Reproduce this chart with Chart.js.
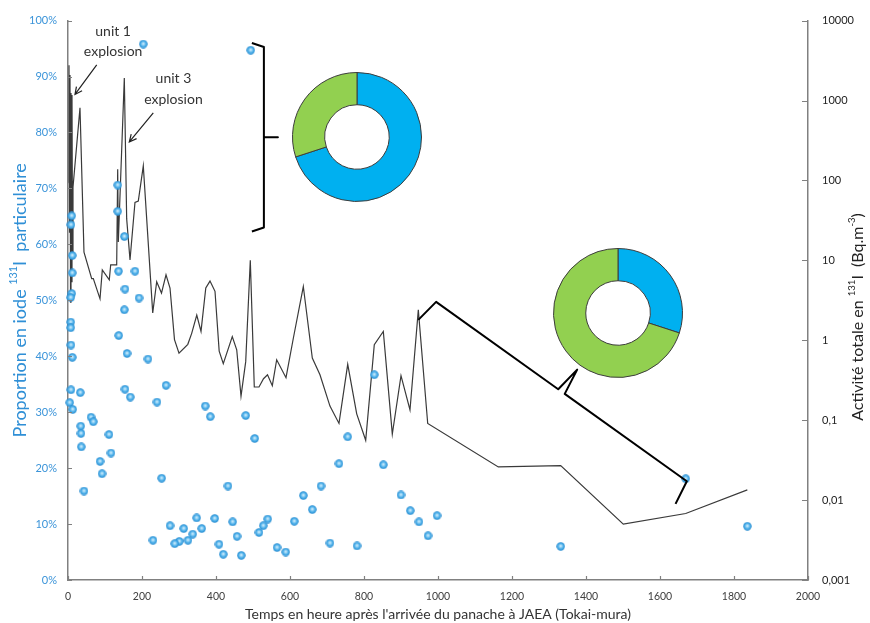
<!DOCTYPE html>
<html lang="fr">
<head>
<meta charset="utf-8">
<script src="https://cdn.jsdelivr.net/npm/chart.js@4/dist/chart.umd.min.js"></script>
<style>
  html, body { margin: 0; padding: 0; background: #fff; }
  #wrap { position: relative; width: 870px; height: 623px; }
  #wrap canvas { position: absolute; }
</style>
</head>
<body>
<div id="wrap">
  <canvas id="main" width="870" height="623" style="left:0;top:0"></canvas>
  <canvas id="ring1" width="130" height="130" style="left:292px;top:72px"></canvas>
  <canvas id="ring2" width="130" height="130" style="left:553px;top:248px"></canvas>
</div>
<script>
// total I-131 activity (Bq/m3) vs hours after plume arrival
const lineHours = [1.4, 2.7, 4.1, 5.4, 6.8, 8.1, 9.5, 10.8, 12.2, 13.5,
  32.4, 43.2, 64, 68.4, 86.5, 92.7, 111.6, 115.4, 131.6, 134.3,
  136, 152.2, 158.6, 167.6, 181, 190, 203.5, 229, 239.7, 252.7,
  264.9, 275.7, 287.8, 300, 323.8, 334.3, 348, 359.5, 372.4, 383.8,
  397.3, 408.6, 419.7, 444, 456, 467.6, 480.3, 492.7, 503.5, 516.2,
  528.4, 539.2, 552.2, 564, 589.2, 609, 636, 660.3, 681, 708,
  732.4, 756, 780.3, 804.6, 827.8, 852.2, 876.5, 900, 924.3, 946.8,
  972.2, 1163, 1331.6, 1500.8, 1669.5, 1836];
const lineActivity = [94, 2770, 22.5, 2080, 3.0, 1240, 5.4, 1170, 12.7, 82,
  810, 12.7, 5.9, 5.9, 3.3, 7.6, 5.7, 8.8, 8.8, 138,
  17, 1910, 33, 10.1, 53, 55, 152, 2.2, 5.4, 3.9,
  6.6, 4.5, 1.02, 0.69, 0.89, 1.22, 2.07, 1.29, 4.5, 5.5,
  4.1, 0.73, 0.51, 1.11, 0.76, 0.2, 0.54, 10, 0.26, 0.26,
  0.33, 0.37, 0.27, 0.57, 0.34, 1.06, 4.7, 0.60, 0.37, 0.15,
  0.091, 0.50, 0.12, 0.056, 0.88, 1.29, 0.067, 0.36, 0.134, 2.4,
  0.091, 0.026, 0.027, 0.005, 0.0068, 0.0134];

// share of particulate iodine (%) per sample
const pointHours = [203.5, 493.8, 10, 8.1, 134.3, 134.3, 152.2, 11.6, 11.6, 10,
  7.3, 136.5, 181, 154, 191.9, 152.2, 7.3, 7.3, 137, 8.1,
  11.6, 159.5, 216.2, 8.1, 33.2, 154, 168.4, 264.9, 240.5, 4.6,
  12.7, 62.2, 68.4, 34.3, 35.1, 110.8, 35.9, 116.2, 86.5, 91.9,
  253.2, 43.2, 371, 384.6, 480.3, 504.6, 432.4, 347.8, 396.5, 445.1,
  539.7, 527.8, 275.7, 312.7, 361.4, 516.2, 337, 456.8, 229.7, 300.8,
  324.3, 288.4, 408.1, 419.7, 468.4, 564.9, 588.4, 827.8, 756, 732.4,
  852.2, 683.8, 636, 660.3, 900, 925.1, 611.6, 948.6, 997.3, 973,
  708.1, 781.1, 1669.5, 1331.6, 1836];
const pointShare = [95.8, 94.7, 65.1, 63.5, 70.6, 65.9, 61.4, 58.0, 54.9, 51.2,
  50.5, 55.2, 55.2, 52.0, 50.4, 48.3, 46.1, 45.1, 43.7, 42.0,
  39.8, 40.5, 39.5, 34.0, 33.5, 34.1, 32.7, 34.8, 31.8, 31.7,
  30.5, 29.1, 28.3, 27.5, 26.2, 26.0, 23.8, 22.7, 21.2, 19.0,
  18.2, 15.9, 31.1, 29.2, 29.4, 25.3, 16.8, 11.1, 11.0, 10.4,
  10.9, 9.7, 9.7, 9.2, 9.2, 8.5, 8.2, 7.8, 7.1, 6.9,
  7.1, 6.5, 6.4, 4.6, 4.4, 5.8, 5.0, 36.7, 25.6, 20.8,
  20.6, 16.8, 15.1, 12.6, 15.2, 12.4, 10.5, 10.4, 11.5, 7.9,
  6.6, 6.1, 18.1, 6.0, 9.6];

// particulate / gaseous split, early and late periods
const sliceLabels = ['particulaire', 'gazeux'];
const ringEarly = [70, 30];
const ringLate = [30, 70];

const xTicks = [0, 200, 400, 600, 800, 1000, 1200, 1400, 1600, 1800, 2000];
const leftTicks = [0, 10, 20, 30, 40, 50, 60, 70, 80, 90, 100];
const rightTicks = [0.001, 0.01, 0.1, 1, 10, 100, 1000, 10000];

const BLUE_TXT = '#2f8fd6';
const AXIS = '#808080';
const FONT = 'Lato, "Liberation Sans", sans-serif';

Chart.defaults.font.family = FONT;

// little glossy ball used as the point marker
function makeBall(d) {
  const c = document.createElement('canvas');
  c.width = c.height = d;
  const g = c.getContext('2d');
  const r = d / 2;
  const grad = g.createRadialGradient(r, r * 0.9, r * 0.1, r, r, r);
  grad.addColorStop(0, '#c4e8fb');
  grad.addColorStop(0.55, '#4aaee9');
  grad.addColorStop(1, '#2286cc');
  g.fillStyle = grad;
  g.beginPath();
  g.arc(r, r, r - 0.3, 0, Math.PI * 2);
  g.fill();
  return c;
}

function drawArrow(ctx, x1, y1, x2, y2) {
  const a = Math.atan2(y2 - y1, x2 - x1);
  const L = 8;
  ctx.beginPath();
  ctx.moveTo(x1, y1);
  ctx.lineTo(x2, y2);
  ctx.moveTo(x2 - L * Math.cos(a - 0.45), y2 - L * Math.sin(a - 0.45));
  ctx.lineTo(x2, y2);
  ctx.lineTo(x2 - L * Math.cos(a + 0.45), y2 - L * Math.sin(a + 0.45));
  ctx.stroke();
}

// curly brace between two pixel points, bulging to the left of the p0->p1 direction
function drawBrace(ctx, p0, p1, arm, tip, notch) {
  const dx = p1.x - p0.x, dy = p1.y - p0.y;
  const len = Math.hypot(dx, dy);
  const u = { x: dx / len, y: dy / len };
  const n = { x: u.y, y: -u.x };
  const at = (base, su, sn) => [base.x + u.x * su + n.x * sn, base.y + u.y * su + n.y * sn];
  const mid = { x: (p0.x + p1.x) / 2, y: (p0.y + p1.y) / 2 };
  const pts = [
    [p0.x, p0.y],
    at(p0, 4, arm),
    at(mid, -notch, arm),
    at(mid, 0, tip),
    at(mid, notch, arm),
    at(p1, -4, arm),
    [p1.x, p1.y]
  ];
  ctx.beginPath();
  ctx.moveTo(pts[0][0], pts[0][1]);
  for (let i = 1; i < pts.length; i++) ctx.lineTo(pts[i][0], pts[i][1]);
  ctx.stroke();
}

// text with superscript runs, centred on (x, y), optionally rotated
function drawRuns(ctx, runs, x, y, size, color, rot) {
  ctx.save();
  ctx.translate(x, y);
  ctx.rotate(rot || 0);
  ctx.fillStyle = color;
  ctx.textBaseline = 'middle';
  ctx.textAlign = 'left';
  let total = 0;
  runs.forEach(r => {
    ctx.font = (r.sup ? size * 0.6 : size) + 'px ' + FONT;
    r.w = ctx.measureText(r.t).width;
    total += r.w;
  });
  let cx = -total / 2;
  runs.forEach(r => {
    ctx.font = (r.sup ? size * 0.6 : size) + 'px ' + FONT;
    ctx.fillText(r.t, cx, r.sup ? -size * 0.38 : 0);
    cx += r.w;
  });
  ctx.restore();
}

const decor = {
  id: 'decor',
  afterDraw(chart) {
    const ctx = chart.ctx;
    const { x, y, y2 } = chart.scales;
    const area = chart.chartArea;

    // tick marks pointing into the plot
    ctx.save();
    ctx.strokeStyle = AXIS;
    ctx.lineWidth = 1.2;
    ctx.beginPath();
    xTicks.forEach(v => {
      const px = Math.round(x.getPixelForValue(v)) + 0.5;
      ctx.moveTo(px, area.bottom);
      ctx.lineTo(px, area.bottom - 4);
    });
    leftTicks.forEach(v => {
      const py = Math.round(y.getPixelForValue(v)) + 0.5;
      ctx.moveTo(area.left, py);
      ctx.lineTo(area.left + 4, py);
    });
    rightTicks.forEach(v => {
      const py = Math.round(y2.getPixelForValue(v)) + 0.5;
      ctx.moveTo(area.right, py);
      ctx.lineTo(area.right - 6, py);
    });
    ctx.stroke();
    ctx.restore();

    // axis titles
    drawRuns(ctx, [{ t: 'Proportion en iode ' }, { t: '131', sup: true }, { t: 'I  particulaire' }],
      20, (area.top + area.bottom) / 2, 18, BLUE_TXT, -Math.PI / 2);
    drawRuns(ctx, [{ t: 'Activité totale en ' }, { t: '131', sup: true }, { t: 'I  (Bq.m' }, { t: '-3', sup: true }, { t: ')' }],
      858, 317, 16, '#222', -Math.PI / 2);
    drawRuns(ctx, [{ t: "Temps en heure après l'arrivée du panache à JAEA (Tokai-mura)" }],
      438, 614, 14, '#333', 0);

    const P = (h, pct) => ({ x: x.getPixelForValue(h), y: y.getPixelForValue(pct) });

    // explosion labels
    ctx.save();
    ctx.fillStyle = '#333';
    ctx.font = '14px ' + FONT;
    ctx.textAlign = 'center';
    ctx.textBaseline = 'middle';
    let p = P(122, 98.0); ctx.fillText('unit 1', p.x, p.y);
    p = P(122, 94.4); ctx.fillText('explosion', p.x, p.y);
    p = P(285, 89.6); ctx.fillText('unit 3', p.x, p.y);
    p = P(285, 85.9); ctx.fillText('explosion', p.x, p.y);
    ctx.strokeStyle = '#222';
    ctx.lineWidth = 1.2;
    let a = P(77.6, 92.1), b = P(18.9, 86.8);
    drawArrow(ctx, a.x, a.y, b.x, b.y);
    a = P(230.5, 83.5); b = P(165.7, 78.3);
    drawArrow(ctx, a.x, a.y, b.x, b.y);

    // braces linking periods to their rings
    ctx.strokeStyle = '#000';
    ctx.lineWidth = 2;
    ctx.lineJoin = 'round';
    drawBrace(ctx, P(497, 96), P(497, 62.3), 12, 26, 0);
    drawBrace(ctx, P(946.8, 46.5), P(1642, 13.6), 25, 52, 4);
    ctx.restore();
  }
};

new Chart(document.getElementById('main'), {
  type: 'scatter',
  data: {
    datasets: [
      {
        type: 'line',
        data: lineHours.map((h, i) => ({ x: h, y: lineActivity[i] })),
        yAxisID: 'y2',
        borderColor: '#3a3a3a',
        borderWidth: 1.2,
        pointRadius: 0,
        tension: 0,
        fill: false,
        order: 2
      },
      {
        data: pointHours.map((h, i) => ({ x: h, y: pointShare[i] })),
        yAxisID: 'y',
        pointStyle: makeBall(9),
        pointRadius: 4.5,
        clip: false,
        order: 1
      }
    ]
  },
  options: {
    responsive: false,
    animation: false,
    devicePixelRatio: 1,
    layout: { padding: { top: 17, left: 0, right: 0, bottom: 0 } },
    plugins: { legend: { display: false }, tooltip: { enabled: false } },
    scales: {
      x: {
        type: 'linear',
        min: 0, max: 2000,
        afterBuildTicks: s => { s.ticks = xTicks.map(v => ({ value: v })); },
        afterFit: s => { s.height = 43; },
        grid: { display: false, drawTicks: false },
        border: { color: AXIS, width: 1.5 },
        ticks: { color: '#404040', font: { size: 10.5 }, padding: 10, maxRotation: 0, callback: v => String(v) }
      },
      y: {
        position: 'left',
        min: 0, max: 100,
        afterBuildTicks: s => { s.ticks = leftTicks.map(v => ({ value: v })); },
        afterFit: s => { s.width = 68; },
        grid: { display: false, drawTicks: false },
        border: { color: AXIS, width: 1.5 },
        ticks: { color: '#3b94d9', font: { size: 11 }, padding: 11, callback: v => v + '%' }
      },
      y2: {
        type: 'logarithmic',
        position: 'right',
        min: 0.001, max: 10000,
        afterBuildTicks: s => { s.ticks = rightTicks.map(v => ({ value: v })); },
        afterFit: s => { s.width = 62; },
        grid: { display: false, drawTicks: false },
        border: { color: AXIS, width: 1.5 },
        ticks: { color: '#222', font: { size: 11 }, padding: 14, callback: v => String(v).replace('.', ',') }
      }
    }
  },
  plugins: [decor]
});

// the two rings
const ringColors = ['#00b0f0', '#92d050'];
function ring(id, values) {
  new Chart(document.getElementById(id), {
    type: 'doughnut',
    data: {
      labels: sliceLabels,
      datasets: [{ data: values, backgroundColor: ringColors, borderColor: '#3c3c3c', borderWidth: 1 }]
    },
    options: {
      responsive: false,
      animation: false,
      devicePixelRatio: 1,
      cutout: '50%',
      layout: { padding: 0 },
      plugins: { legend: { display: false }, tooltip: { enabled: false } }
    }
  });
}
ring('ring1', ringEarly);
ring('ring2', ringLate);
</script>
</body>
</html>
